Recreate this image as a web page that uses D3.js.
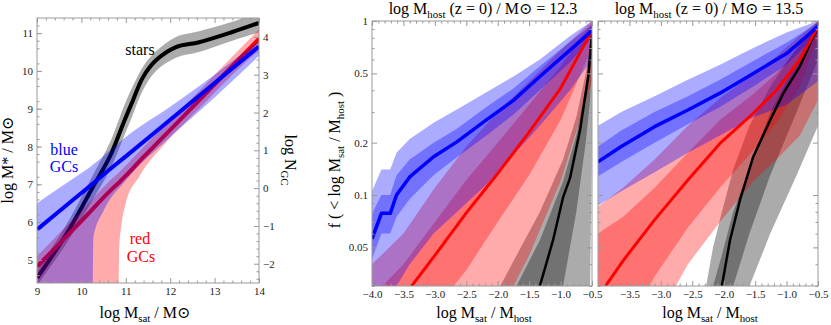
<!DOCTYPE html>
<html>
<head>
<meta charset="utf-8">
<script src="https://cdn.jsdelivr.net/npm/d3@7"></script>
<style>
  body { margin: 0; background: #fff; }
  text { font-family: "Liberation Serif", "Times New Roman", "DejaVu Serif", serif; }
</style>
</head>
<body>
<svg id="chart" width="831" height="325"></svg>
<script>
// ---- left panel: stellar mass and GC numbers vs satellite halo mass ----
const starsX   = [9, 9.67, 10.26, 10.64, 10.97, 11.16, 11.39, 11.68, 12.13, 12.65, 13.4, 14];
const starsMid = [4.52, 5.70, 6.93, 7.73, 8.69, 9.22, 9.84, 10.28, 10.63, 10.76, 11.03, 11.27];
const starsHi  = [4.72, 5.95, 7.25, 8.1, 9.1, 9.6, 10.12, 10.52, 10.9, 11.05, 11.3, 11.55];
const starsLo  = [4.32, 5.45, 6.6, 7.38, 8.3, 8.85, 9.5, 10.0, 10.35, 10.5, 10.8, 11.02];

const blueGcX   = [9, 9.5, 10, 10.24, 10.27, 10.5, 11, 12, 13, 14];
const blueGcMid = [5.8, 6.29, 6.77, 7.0, 7.03, 7.26, 7.74, 8.71, 9.68, 10.65];
const blueGcHi  = [6.5, 6.9, 7.3, 7.5, 7.53, 7.75, 8.25, 9.05, 9.9, 10.8];
const blueGcLo  = [3.0, 3.0, 3.0, 3.0, 5.6, 6.3, 7.1, 8.25, 9.3, 10.4];

const redGcX   = [9, 10, 10.83, 10.85, 10.9, 11, 11.3, 11.9, 12.65, 13.4, 14];
const redGcMid = [4.82, 6.03, 7.03, 7.05, 7.11, 7.23, 7.6, 8.32, 9.22, 10.13, 10.85];
const redGcHi  = [5.1, 6.3, 7.3, 7.32, 7.38, 7.5, 7.86, 8.58, 9.47, 10.38, 11.1];
const redGcLo  = [3.0, 3.0, 3.0, 5.3, 5.9, 6.5, 7.2, 8.1, 9.0, 9.9, 10.55];

const leftXTicks = [9, 10, 11, 12, 13, 14];
const leftYTicks = [5, 6, 7, 8, 9, 10, 11];
const rightYTicks = [-2, -1, 0, 1, 2, 3, 4];

// ---- host 12.3 panel: cumulative fractions ----
const h12BlueX    = [-4, -3.85, -3.71, -3.61, -3.4, -3.02, -2.65, -2.18, -1.75, -1.33, -0.85, -0.5];
const h12BlueMid  = [0.056, 0.0785, 0.0785, 0.1, 0.127, 0.166, 0.202, 0.27, 0.35, 0.48, 0.68, 0.88];
const h12BlueIHi  = [0.078, 0.1, 0.1, 0.13, 0.16, 0.2, 0.24, 0.32, 0.41, 0.55, 0.76, 0.95];
const h12BlueILo  = [0.043, 0.06, 0.06, 0.075, 0.095, 0.13, 0.165, 0.22, 0.29, 0.4, 0.58, 0.8];
const h12BlueOHi  = [0.105, 0.14, 0.14, 0.175, 0.21, 0.26, 0.31, 0.39, 0.48, 0.6, 0.82, 1.0];
const h12BlueOLo  = [0.02, 0.025, 0.025, 0.03, 0.04, 0.06, 0.08, 0.115, 0.17, 0.25, 0.4, 0.6];

const h12RedX    = [-4, -3.5, -3, -2.5, -2, -1.5, -1, -0.5];
const h12RedMid  = [0.018, 0.026, 0.045, 0.079, 0.133, 0.23, 0.41, 0.88];
const h12RedIHi  = [0.026, 0.04, 0.07, 0.122, 0.2, 0.33, 0.55, 0.97];
const h12RedILo  = [0.01, 0.014, 0.022, 0.037, 0.07, 0.13, 0.27, 0.7];
const h12RedOHi  = [0.04, 0.06, 0.11, 0.19, 0.3, 0.45, 0.68, 1.0];
const h12RedOLo  = [0.005, 0.006, 0.008, 0.012, 0.02, 0.045, 0.12, 0.45];

const h12StarX    = [-1.96, -1.7, -1.33, -0.96, -0.75, -0.6, -0.53, -0.5];
const h12StarIHi  = [0.018, 0.03, 0.055, 0.12, 0.22, 0.42, 0.6, 0.95];
const h12StarILo  = [0.004, 0.008, 0.015, 0.03, 0.08, 0.2, 0.35, 0.6];
const h12StarOHi  = [0.03, 0.045, 0.08, 0.16, 0.28, 0.5, 0.7, 1.0];
const h12StarOLo  = [0.001, 0.002, 0.005, 0.01, 0.018, 0.025, 0.03, 0.22];
const h12StarLineX = [-1.33, -1.12, -0.96, -0.85, -0.69, -0.56, -0.5];
const h12StarMid   = [0.03, 0.055, 0.097, 0.125, 0.236, 0.48, 0.85];

// ---- host 13.5 panel ----
const h13BlueX    = [-4, -3.63, -3.1, -2.57, -2.06, -1.53, -1.0, -0.5];
const h13BlueMid  = [0.155, 0.19, 0.247, 0.308, 0.385, 0.5, 0.65, 0.93];
const h13BlueIHi  = [0.19, 0.235, 0.3, 0.37, 0.46, 0.59, 0.75, 0.98];
const h13BlueILo  = [0.128, 0.155, 0.2, 0.255, 0.32, 0.42, 0.56, 0.85];
const h13BlueOHi  = [0.25, 0.3, 0.37, 0.46, 0.56, 0.7, 0.86, 1.0];
const h13BlueOLo  = [0.087, 0.105, 0.135, 0.175, 0.22, 0.28, 0.33, 0.45];

const h13RedX    = [-4, -3.6, -3.1, -2.57, -2.06, -1.53, -1.16, -0.79, -0.5];
const h13RedMid  = [0.026, 0.042, 0.072, 0.122, 0.198, 0.295, 0.40, 0.60, 0.93];
const h13RedIHi  = [0.06, 0.075, 0.11, 0.175, 0.27, 0.38, 0.5, 0.72, 0.98];
const h13RedILo  = [0.008, 0.016, 0.034, 0.065, 0.11, 0.18, 0.26, 0.42, 0.8];
const h13RedOHi  = [0.086, 0.11, 0.16, 0.25, 0.36, 0.5, 0.63, 0.82, 1.0];
const h13RedOLo  = [0.004, 0.008, 0.018, 0.04, 0.07, 0.12, 0.16, 0.22, 0.35];

const h13StarX    = [-2.28, -2.17, -2.03, -1.85, -1.59, -1.26, -0.84, -0.5];
const h13StarIHi  = [0.02, 0.03, 0.045, 0.08, 0.14, 0.3, 0.58, 0.97];
const h13StarILo  = [0.005, 0.01, 0.018, 0.03, 0.06, 0.13, 0.3, 0.6];
const h13StarOHi  = [0.03, 0.05, 0.08, 0.14, 0.25, 0.42, 0.7, 1.0];
const h13StarOLo  = [0.002, 0.005, 0.01, 0.018, 0.03, 0.06, 0.13, 0.25];
const h13StarLineX = [-2.03, -1.9, -1.74, -1.53, -1.26, -1.05, -0.79, -0.5];
const h13StarMid   = [0.03, 0.055, 0.094, 0.166, 0.27, 0.385, 0.547, 0.93];

const fracYTicks = [0.05, 0.1, 0.2, 0.5, 1];
const fracYMinor = [0.03, 0.04, 0.06, 0.07, 0.08, 0.09, 0.3, 0.4, 0.6, 0.7, 0.8, 0.9];
const hostMasses = ["12.3", "13.5"];

const BLUE = "#0000ff", RED = "#ff0000", BLACK = "#000000";
const FRAME = "#999", TICKTXT = "#222";
const SERIF = '"Liberation Serif", "Times New Roman", serif';

const svg = d3.select("#chart");

// helpers
function rows(xs, a, b) {
    return xs.map((v, i) => ({x: v, a: a[i], b: b ? b[i] : null}));
}
function band(g, x, y, xs, lo, hi, color, curve) {
    g.append("path")
        .datum(rows(xs, lo, hi))
        .attr("d", d3.area().x(d => x(d.x)).y0(d => y(d.a)).y1(d => y(d.b)).curve(curve))
        .attr("fill", color)
        .attr("fill-opacity", 0.33);
}
function line(g, x, y, xs, ys, color, width, curve) {
    g.append("path")
        .datum(rows(xs, ys))
        .attr("d", d3.line().x(d => x(d.x)).y(d => y(d.a)).curve(curve))
        .attr("fill", "none")
        .attr("stroke", color)
        .attr("stroke-width", width)
        .attr("stroke-linejoin", "round");
}
function styleAxis(sel) {
    sel.attr("font-family", SERIF).attr("font-size", 11);
    sel.select(".domain").remove();
    sel.selectAll("line").attr("stroke", FRAME);
    sel.selectAll("text").attr("fill", TICKTXT);
}
function addAxis(g, axis, tx, ty) {
    g.append("g").attr("transform", `translate(${tx},${ty})`).call(axis).call(styleAxis);
}
// text with subscripts: parts = [[str, isSub], ...]
function richText(g, parts, size) {
    const t = g.append("text").style("font-size", size + "px").attr("text-anchor", "middle");
    let shifted = false;
    parts.forEach(([s, sub]) => {
        const sp = t.append("tspan").text(s);
        if (sub && !shifted) { sp.attr("dy", size * 0.22).style("font-size", (size * 0.68) + "px"); shifted = true; }
        else if (sub) { sp.style("font-size", (size * 0.68) + "px"); }
        else if (shifted) { sp.attr("dy", -size * 0.22); shifted = false; }
    });
    return t;
}
function frame(g, x, y) {
    g.append("rect")
        .attr("x", x.range()[0]).attr("y", y.range()[1])
        .attr("width", x.range()[1] - x.range()[0])
        .attr("height", y.range()[0] - y.range()[1])
        .attr("fill", "none").attr("stroke", FRAME).attr("stroke-width", 1);
}

// ================= left panel =================
const xL = d3.scaleLinear().domain([9, 14]).range([37, 259]);
const yL = d3.scaleLinear().domain([4.39, 11.4]).range([283, 18]);
const yR = d3.scaleLinear().domain([-2.51, 4.5]).range([283, 18]);

svg.append("clipPath").attr("id", "clipL").append("rect")
    .attr("x", 37).attr("y", 18).attr("width", 222).attr("height", 265);
const gL = svg.append("g").attr("clip-path", "url(#clipL)");
const smooth = d3.curveCatmullRom.alpha(0.5);
const mono = d3.curveMonotoneX;
band(gL, xL, yL, starsX, starsLo, starsHi, BLACK, smooth);
line(gL, xL, yL, starsX, starsMid, BLACK, 4, smooth);
band(gL, xL, yL, redGcX, redGcLo, redGcHi, RED, mono);
line(gL, xL, yL, redGcX, redGcMid, RED, 4, mono);
band(gL, xL, yL, blueGcX, blueGcLo, blueGcHi, BLUE, mono);
line(gL, xL, yL, blueGcX, blueGcMid, BLUE, 4, mono);

const minorX9 = d3.range(0, 26).filter(i => i % 5).map(i => 9 + i * 0.2);
const minorYL = d3.range(0, 36).filter(i => i % 5).map(i => 4.4 + i * 0.2).filter(v => v < 11.4);
const minorYR = d3.range(0, 36).filter(i => i % 5).map(i => -3 + i * 0.2).filter(v => v > -2.51 && v < 4.5);

frame(svg, xL, yL);
addAxis(svg, d3.axisBottom(xL).tickValues(leftXTicks).tickSize(-5).tickPadding(4).tickFormat(d3.format("d")), 0, 283);
addAxis(svg, d3.axisBottom(xL).tickValues(minorX9).tickSize(-2.5).tickFormat(""), 0, 283);
addAxis(svg, d3.axisTop(xL).tickValues(leftXTicks).tickSize(-5).tickFormat(""), 0, 18);
addAxis(svg, d3.axisTop(xL).tickValues(minorX9).tickSize(-2.5).tickFormat(""), 0, 18);
addAxis(svg, d3.axisLeft(yL).tickValues(leftYTicks).tickSize(-5).tickPadding(4).tickFormat(d3.format("d")), 37, 0);
addAxis(svg, d3.axisLeft(yL).tickValues(minorYL).tickSize(-2.5).tickFormat(""), 37, 0);
addAxis(svg, d3.axisRight(yR).tickValues(rightYTicks).tickSize(-5).tickPadding(4).tickFormat(d3.format("d")), 259, 0);
addAxis(svg, d3.axisRight(yR).tickValues(minorYR).tickSize(-2.5).tickFormat(""), 259, 0);

// curve labels
svg.append("text").attr("x", 140).attr("y", 55).attr("text-anchor", "middle").style("font-size", "16px").text("stars");
svg.append("text").attr("x", 64).attr("y", 155).attr("text-anchor", "middle").style("font-size", "16px").attr("fill", BLUE).text("blue");
svg.append("text").attr("x", 64).attr("y", 172).attr("text-anchor", "middle").style("font-size", "16px").attr("fill", BLUE).text("GCs");
svg.append("text").attr("x", 140).attr("y", 244).attr("text-anchor", "middle").style("font-size", "16px").attr("fill", RED).text("red");
svg.append("text").attr("x", 141).attr("y", 262).attr("text-anchor", "middle").style("font-size", "16px").attr("fill", RED).text("GCs");

// axis titles
richText(svg, [["log M"], ["sat", true], [" / M\u2299"]], 16).attr("x", 145).attr("y", 318);
richText(svg, [["log M* / M\u2299"]], 16).attr("transform", "translate(13,160) rotate(-90)");
richText(svg, [["log N"], ["GC", true]], 16).attr("transform", "translate(285,160) rotate(90)");

// ================= fraction panels =================
const yF = d3.scaleLog().domain([0.03, 1]).range([286, 21]);
const panels = [
    {left: 372, host: hostMasses[0],
     star: [h12StarX, h12StarOLo, h12StarOHi, h12StarILo, h12StarIHi, h12StarLineX, h12StarMid],
     red: [h12RedX, h12RedOLo, h12RedOHi, h12RedILo, h12RedIHi, h12RedMid],
     blue: [h12BlueX, h12BlueOLo, h12BlueOHi, h12BlueILo, h12BlueIHi, h12BlueMid]},
    {left: 598, host: hostMasses[1],
     star: [h13StarX, h13StarOLo, h13StarOHi, h13StarILo, h13StarIHi, h13StarLineX, h13StarMid],
     red: [h13RedX, h13RedOLo, h13RedOHi, h13RedILo, h13RedIHi, h13RedMid],
     blue: [h13BlueX, h13BlueOLo, h13BlueOHi, h13BlueILo, h13BlueIHi, h13BlueMid]}
];
const fracXMajor = d3.range(0, 8).map(i => -4 + i * 0.5);
const fracXMinor = d3.range(0, 36).filter(i => i % 5).map(i => +(-4 + i * 0.1).toFixed(2));
const lin = d3.curveLinear;

panels.forEach((p, k) => {
    const x = d3.scaleLinear().domain([-4, -0.5]).range([p.left, p.left + 220]);
    const id = "clipP" + k;
    svg.append("clipPath").attr("id", id).append("rect")
        .attr("x", p.left).attr("y", 21).attr("width", 220).attr("height", 265);
    const g = svg.append("g").attr("clip-path", `url(#${id})`);

    const [sx, soLo, soHi, siLo, siHi, slx, sMid] = p.star;
    const [rx, roLo, roHi, riLo, riHi, rMid] = p.red;
    const [bx, boLo, boHi, biLo, biHi, bMid] = p.blue;
    band(g, x, yF, sx, soLo, soHi, BLACK, lin);
    band(g, x, yF, sx, siLo, siHi, BLACK, lin);
    band(g, x, yF, rx, roLo, roHi, RED, lin);
    band(g, x, yF, rx, riLo, riHi, RED, lin);
    band(g, x, yF, bx, boLo, boHi, BLUE, lin);
    band(g, x, yF, bx, biLo, biHi, BLUE, lin);
    line(g, x, yF, slx, sMid, BLACK, 2.5, lin);
    line(g, x, yF, rx, rMid, RED, 3, lin);
    line(g, x, yF, bx, bMid, BLUE, 3.5, lin);

    frame(svg, x, yF);
    const majors = k === 0 ? fracXMajor : fracXMajor.slice(1);
    addAxis(svg, d3.axisBottom(x).tickValues(majors).tickSize(-5).tickPadding(4).tickFormat(d3.format(".1f")), 0, 286);
    addAxis(svg, d3.axisBottom(x).tickValues(fracXMinor).tickSize(-2.5).tickFormat(""), 0, 286);
    addAxis(svg, d3.axisTop(x).tickValues(fracXMajor).tickSize(-5).tickFormat(""), 0, 21);
    addAxis(svg, d3.axisTop(x).tickValues(fracXMinor).tickSize(-2.5).tickFormat(""), 0, 21);
    addAxis(svg, d3.axisLeft(yF).tickValues(fracYTicks).tickSize(-5).tickPadding(4)
        .tickFormat(k === 0 ? (d => String(d)) : ""), p.left, 0);
    addAxis(svg, d3.axisLeft(yF).tickValues(fracYMinor).tickSize(-2.5).tickFormat(""), p.left, 0);
    addAxis(svg, d3.axisRight(yF).tickValues(fracYTicks).tickSize(-5).tickFormat(""), p.left + 220, 0);
    addAxis(svg, d3.axisRight(yF).tickValues(fracYMinor).tickSize(-2.5).tickFormat(""), p.left + 220, 0);

    richText(svg, [["log M"], ["host", true], [" (z = 0) / M\u2299 = " + p.host]], 16)
        .attr("x", p.left + 111).attr("y", 14);
    richText(svg, [["log M"], ["sat", true], [" / M"], ["host", true]], 16)
        .attr("x", p.left + 112).attr("y", 318);
});

richText(svg, [["f ( < log M"], ["sat", true], [" / M"], ["host", true], [" )"]], 16)
    .attr("transform", "translate(340,160) rotate(-90)");
</script>
</body>
</html>
